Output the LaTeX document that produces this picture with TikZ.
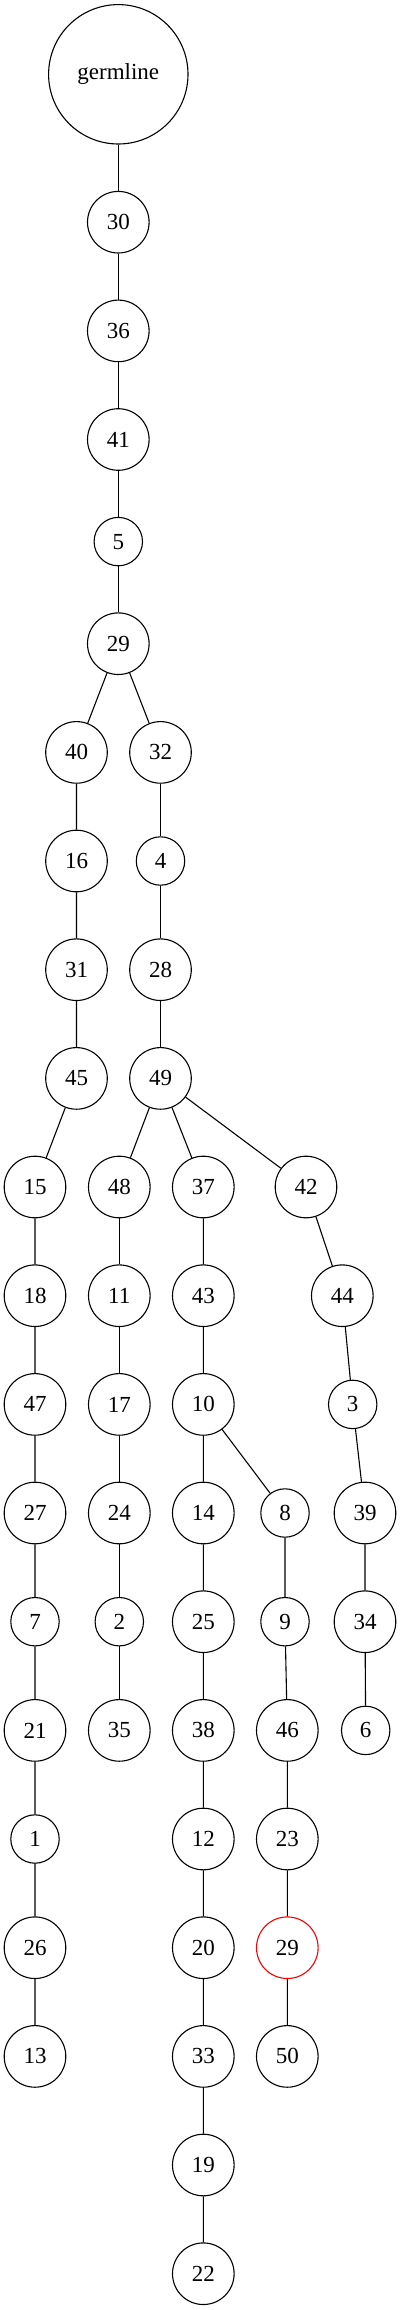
\documentclass[tikz,border=0pt]{standalone}
\usepackage{fontspec}
\setmainfont{Liberation Serif}
\begin{document}
\begin{tikzpicture}[x=1pt,y=-1pt,
  nd/.style={circle,draw,line width=1.1pt,minimum size=61.6pt,inner sep=0pt,font=\fontsize{23}{27}\selectfont},
  sm/.style={nd,minimum size=48.4pt},
  big/.style={nd,minimum size=139.4pt},
  hl/.style={draw=red},
  edge/.style={line width=1.1pt}]
\useasboundingbox (0,0) rectangle (401,2310);
% main column
\node[big] (germ) at (118.3,74.3) {germline};
\node[nd] (n30) at (118.3,222.2) {30};
\node[nd] (n36) at (118.3,330.9) {36};
\node[nd] (n41) at (118.3,439.5) {41};
\node[sm] (n5) at (118.3,541.6) {5};
\node[nd] (n29) at (118.3,643.7) {29};
% left branch
\node[nd] (n40) at (76.5,752.4) {40};
\node[nd] (n16) at (76.5,861.0) {16};
\node[nd] (n31) at (76.5,969.7) {31};
\node[nd] (n45) at (76.5,1078.4) {45};
\node[nd] (n15) at (35,1187.0) {15};
\node[nd] (n18) at (35,1295.7) {18};
\node[nd] (n47) at (35,1404.4) {47};
\node[nd] (n27) at (35,1513.0) {27};
\node[sm] (n7) at (35,1621.7) {7};
\node[nd] (n21) at (35,1730.4) {21};
\node[sm] (n1) at (35,1839.0) {1};
\node[nd] (n26) at (35,1947.7) {26};
\node[nd] (n13) at (35,2056.4) {13};
% right branch
\node[nd] (n32) at (160.5,752.4) {32};
\node[sm] (n4) at (160.5,861.0) {4};
\node[nd] (n28) at (160.5,969.7) {28};
\node[nd] (n49) at (160.5,1078.4) {49};
% 48 column
\node[nd] (n48) at (119.3,1187.0) {48};
\node[nd] (n11) at (119.3,1295.7) {11};
\node[nd] (n17) at (119.3,1404.4) {17};
\node[nd] (n24) at (119.3,1513.0) {24};
\node[sm] (n2) at (119.3,1621.7) {2};
\node[nd] (n35) at (119.3,1730.4) {35};
% 37 column
\node[nd] (n37) at (203.3,1187.0) {37};
\node[nd] (n43) at (203.3,1295.7) {43};
\node[nd] (n10) at (203.3,1404.4) {10};
\node[nd] (n14) at (203.3,1513.0) {14};
\node[nd] (n25) at (203.3,1621.7) {25};
\node[nd] (n38) at (203.3,1730.4) {38};
\node[nd] (n12) at (203.3,1839.0) {12};
\node[nd] (n20) at (203.3,1947.7) {20};
\node[nd] (n33) at (203.3,2056.4) {33};
\node[nd] (n19) at (203.3,2165.0) {19};
\node[nd] (n22) at (203.3,2273.7) {22};
% 8 column
\node[sm] (n8) at (285,1513.0) {8};
\node[sm] (n9) at (285,1621.7) {9};
\node[nd] (n46) at (287.3,1730.4) {46};
\node[nd] (n23) at (287.3,1839.0) {23};
\node[nd,hl] (n29b) at (287.3,1947.7) {29};
\node[nd] (n50) at (287.3,2056.4) {50};
% 42 column
\node[nd] (n42) at (306,1187.0) {42};
\node[nd] (n44) at (342.3,1295.7) {44};
\node[sm] (n3) at (352.7,1404.4) {3};
\node[nd] (n39) at (365,1513.0) {39};
\node[nd] (n34) at (365,1621.7) {34};
\node[sm] (n6) at (365.7,1730.4) {6};
% edges
\draw[edge] (germ)--(n30) (n30)--(n36) (n36)--(n41) (n41)--(n5) (n5)--(n29);
\draw[edge] (n29)--(n40) (n29)--(n32);
\draw[edge] (n40)--(n16) (n16)--(n31) (n31)--(n45) (n45)--(n15) (n15)--(n18) (n18)--(n47) (n47)--(n27) (n27)--(n7) (n7)--(n21) (n21)--(n1) (n1)--(n26) (n26)--(n13);
\draw[edge] (n32)--(n4) (n4)--(n28) (n28)--(n49);
\draw[edge] (n49)--(n48) (n49)--(n37) (n49)--(n42);
\draw[edge] (n48)--(n11) (n11)--(n17) (n17)--(n24) (n24)--(n2) (n2)--(n35);
\draw[edge] (n37)--(n43) (n43)--(n10) (n10)--(n14) (n10)--(n8) (n14)--(n25) (n25)--(n38) (n38)--(n12) (n12)--(n20) (n20)--(n33) (n33)--(n19) (n19)--(n22);
\draw[edge] (n8)--(n9) (n9)--(n46) (n46)--(n23) (n23)--(n29b) (n29b)--(n50);
\draw[edge] (n42)--(n44) (n44)--(n3) (n3)--(n39) (n39)--(n34) (n34)--(n6);
\end{tikzpicture}
\end{document}
